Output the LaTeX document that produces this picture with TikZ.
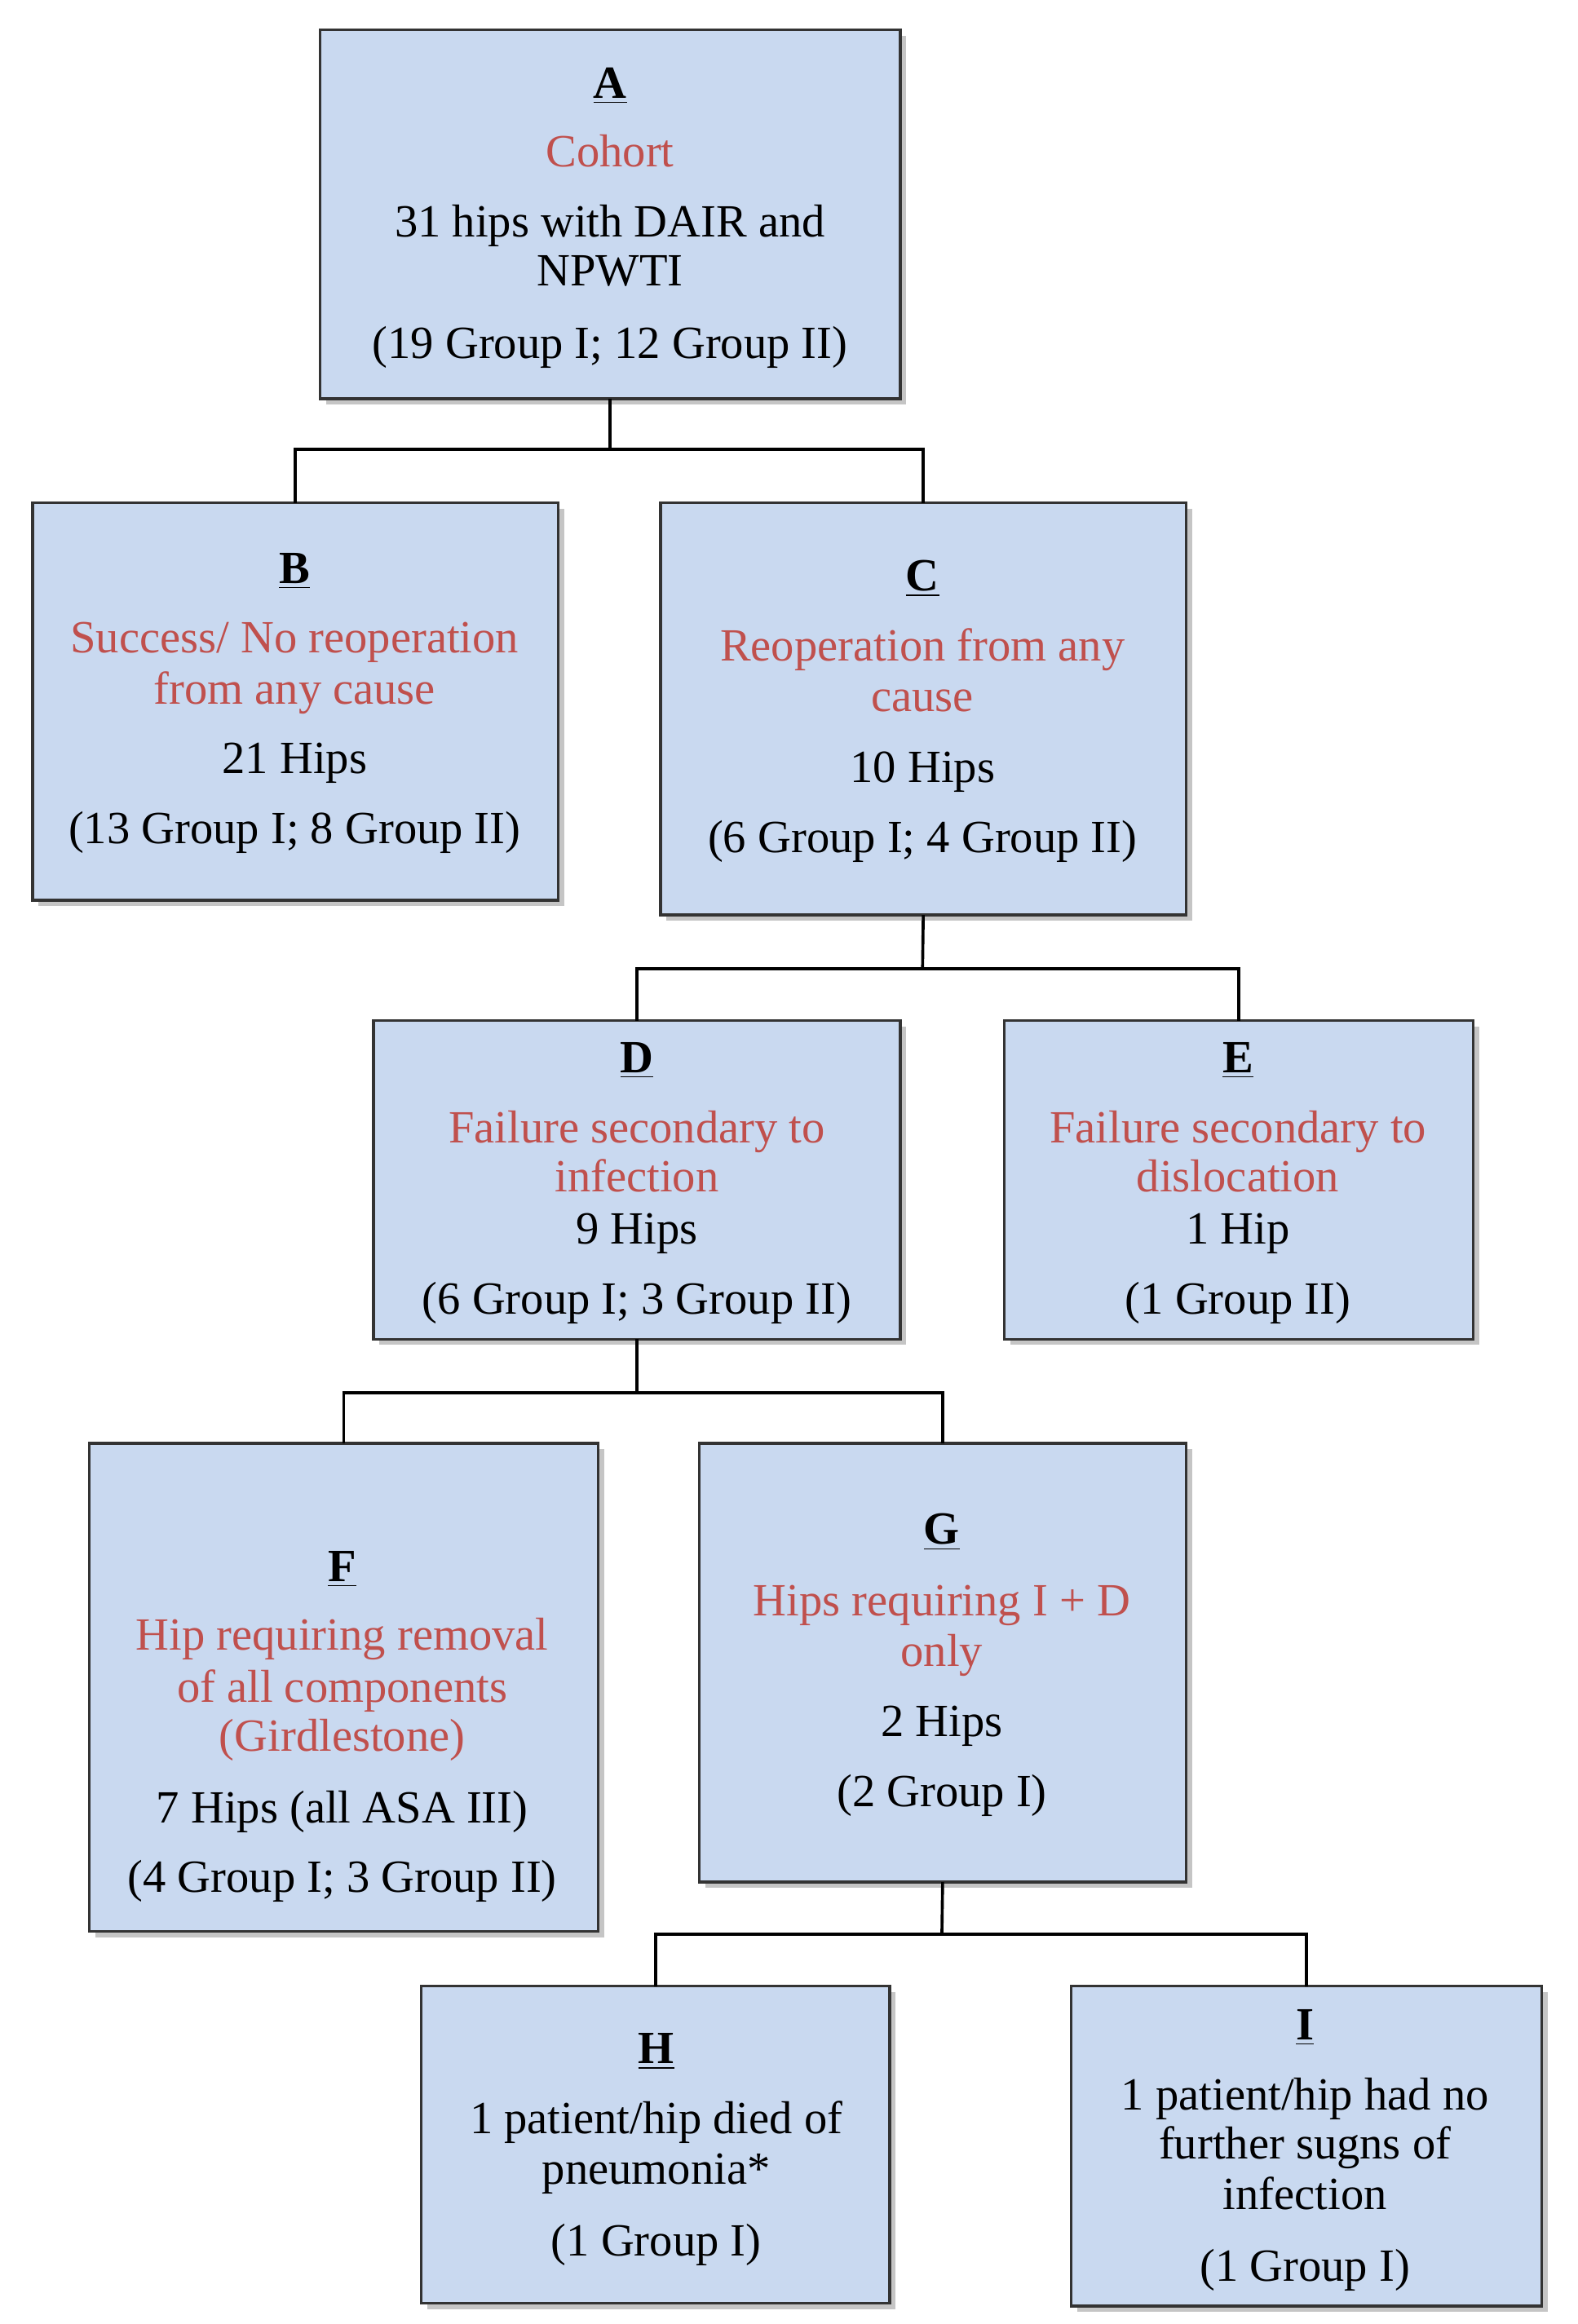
\documentclass[tikz,border=0pt]{standalone}
\usepackage{fontspec}
\setmainfont{Liberation Serif}
\usetikzlibrary{shadows}
\definecolor{bx}{HTML}{C9D9F0}
\definecolor{rd}{HTML}{C0504D}
\begin{document}
\begin{tikzpicture}[x=0.5pt,y=-0.5pt,
 box/.style={draw=black!80,line width=0.9pt,fill=bx,drop shadow={shadow xshift=2pt,shadow yshift=-2pt,fill=black!45}},
 t/.style={font=\fontsize{15.5}{17}\selectfont,inner sep=0pt,anchor=base},
 r/.style={t,text=rd},
 ln/.style={line width=1pt}]
\useasboundingbox (0,0) rectangle (1060,1562);
\fill[white] (0,0) rectangle (1060,1562);
\newcommand\bx[5]{\draw[box] (#2,#3) rectangle (#4,#5); \coordinate (#1t) at ({(#2+#4)/2},#3); \coordinate (#1b) at ({(#2+#4)/2},#5);}
\bx{A}{215}{20}{605}{268}
\bx{B}{22}{338}{375}{605}
\bx{C}{444}{338}{797}{615}
\bx{D}{251}{686}{605}{900}
\bx{E}{675}{686}{990}{900}
\bx{F}{60}{970}{402}{1298}
\bx{G}{470}{970}{797}{1265}
\bx{H}{283}{1335}{598}{1548}
\bx{I}{720}{1335}{1036}{1550}
% connectors
\coordinate (j1) at (410,302); \coordinate (j2) at (620,651); \coordinate (j3) at (428,936); \coordinate (j4) at (633,1300);
\draw[ln] (Ab) -- (j1); \draw[ln] (Bt) |- (j1) -| (Ct);
\draw[ln] (Cb) -- (j2); \draw[ln] (Dt) |- (j2) -| (Et);
\draw[ln] (Db) -- (j3); \draw[ln] (Ft) |- (j3) -| (Gt);
\draw[ln] (Gb) -- (j4); \draw[ln] (Ht) |- (j4) -| (It);
% texts
\node[t] (a1) at (410,66) {\textbf{\underline{A}}};
\node[r] (a2) at (410,112) {Cohort};
\node[t] (a3) at (410,159) {31 hips with DAIR and};
\node[t] (a4) at (410,192) {NPWTI};
\node[t] (a5) at (410,241) {(19 Group I; 12 Group II)};
\node[t] (b1) at (198,392) {\textbf{\underline{B}}};
\node[r] (b2) at (198,439) {Success/ No reoperation};
\node[r] (b3) at (198,473) {from any cause};
\node[t] (b4) at (198,520) {21 Hips};
\node[t] (b5) at (198,567) {(13 Group I; 8 Group II)};
\node[t] (c1) at (620,397) {\textbf{\underline{C}}};
\node[r] (c2) at (620,444) {Reoperation from any};
\node[r] (c3) at (620,478) {cause};
\node[t] (c4) at (620,526) {10 Hips};
\node[t] (c5) at (620,573) {(6 Group I; 4 Group II)};
\node[t] (d1) at (428,721) {\textbf{\underline{D}}};
\node[r] (d2) at (428,768) {Failure secondary to};
\node[r] (d3) at (428,801) {infection};
\node[t] (d4) at (428,836) {9 Hips};
\node[t] (d5) at (428,883) {(6 Group I; 3 Group II)};
\node[t] (e1) at (832,721) {\textbf{\underline{E}}};
\node[r] (e2) at (832,768) {Failure secondary to};
\node[r] (e3) at (832,801) {dislocation};
\node[t] (e4) at (832,836) {1 Hip};
\node[t] (e5) at (832,883) {(1 Group II)};
\node[t] (f1) at (230,1063) {\textbf{\underline{F}}};
\node[r] (f2) at (230,1109) {Hip requiring removal};
\node[r] (f3) at (230,1144) {of all components};
\node[r] (f4) at (230,1177) {(Girdlestone)};
\node[t] (f5) at (230,1225) {7 Hips (all ASA III)};
\node[t] (f6) at (230,1272) {(4 Group I; 3 Group II)};
\node[t] (g1) at (633,1038) {\textbf{\underline{G}}};
\node[r] (g2) at (633,1086) {Hips requiring I + D};
\node[r] (g3) at (633,1120) {only};
\node[t] (g4) at (633,1167) {2 Hips};
\node[t] (g5) at (633,1214) {(2 Group I)};
\node[t] (h1) at (441,1387) {\textbf{\underline{H}}};
\node[t] (h2) at (441,1434) {1 patient/hip died of};
\node[t] (h3) at (441,1468) {pneumonia*};
\node[t] (h4) at (441,1516) {(1 Group I)};
\node[t] (i1) at (877,1371) {\textbf{\underline{I}}};
\node[t] (i2) at (877,1418) {1 patient/hip had no};
\node[t] (i3) at (877,1451) {further sugns of};
\node[t] (i4) at (877,1485) {infection};
\node[t] (i5) at (877,1533) {(1 Group I)};
\end{tikzpicture}
\end{document}
